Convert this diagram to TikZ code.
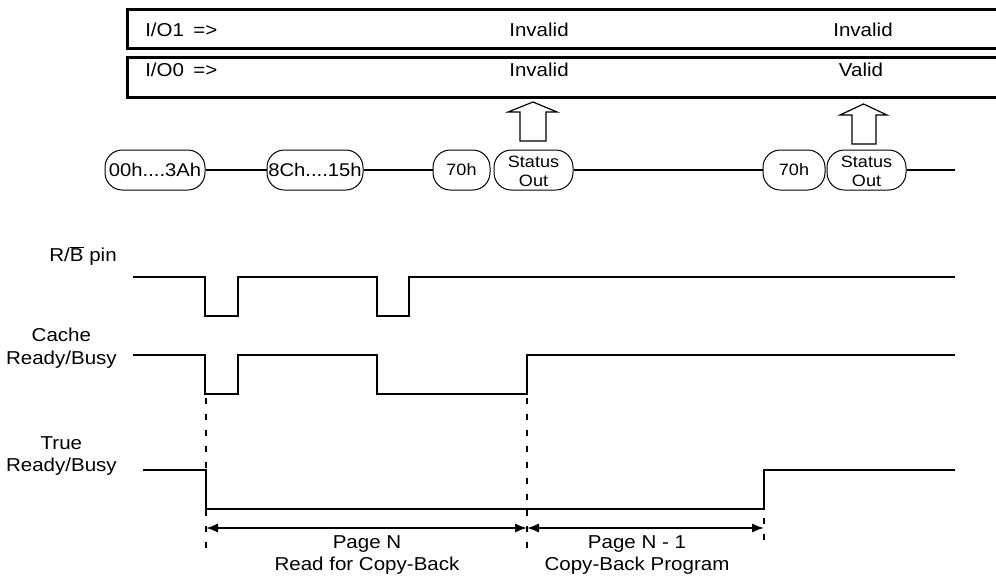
\documentclass[tikz,border=0pt]{standalone}
\usepackage{fontspec}
\setmainfont{Liberation Sans}[FakeStretch=1.1]
\usetikzlibrary{arrows.meta}
\tikzset{
  boxline/.style={line width=2.25pt, line join=miter},
  sig/.style={line width=1.5pt, line join=miter},
  cmd/.style={draw, line width=0.75pt, rounded corners=13pt, minimum height=30pt, inner sep=0pt, align=center},
  cmdtxt/.style={font=\fontsize{13.8}{16}\selectfont},
  smalltxt/.style={font=\fontsize{12.3}{15}\selectfont},
  lbl/.style={font=\fontsize{14}{16.8}\selectfont, align=center, inner sep=0pt},
  dashv/.style={line width=1.5pt, dash pattern=on 4.5pt off 7.5pt},
  dimarrow/.style={line width=1.5pt, {Latex[length=9pt,width=7pt]}-{Latex[length=9pt,width=7pt]}},
  hollow/.style={draw, line width=0.9pt, fill=white, line join=miter},
  conn/.style={line width=1.5pt}
}
\newcommand{\stxt}{\raisebox{-5.4pt}[0pt][0pt]{\begin{tabular}{@{}c@{}}Status\\[-0.5pt]Out\end{tabular}}}
\begin{document}
\begin{tikzpicture}[x=0.75pt, y=-0.75pt]
\useasboundingbox (0,0) rectangle (996,578);
% top boxes
\draw[boxline] (1000,9) -- (127,9) -- (127,48) -- (1000,48);
\draw[boxline] (1000,57) -- (127,57) -- (127,97) -- (1000,97);
\node[lbl, anchor=west] (io1) at (145,30) {I/O1};
\node[lbl, anchor=west] (ar1) at (193,31) {=>};
\node[lbl] (inv1) at (539,30) {Invalid};
\node[lbl] (inv2) at (863,30) {Invalid};
\node[lbl, anchor=west] (io0) at (145,70) {I/O0};
\node[lbl, anchor=west] (ar0) at (193,71) {=>};
\node[lbl] (inv3) at (539,70) {Invalid};
\node[lbl] (val1) at (861,70) {Valid};
% hollow arrows
\draw[hollow] (520,141) -- (520,112) -- (508,112) -- (533,102) -- (557,112) -- (546,112) -- (546,141) -- cycle;
\draw[hollow] (852,144) -- (852,115) -- (840,115) -- (863.5,104) -- (887,115) -- (876,115) -- (876,144) -- cycle;
% command nodes
\node[cmd, cmdtxt, minimum width=75pt] (c1) at (155,170) {00h....3Ah};
\node[cmd, cmdtxt, minimum width=72pt] (c2) at (315,170) {8Ch....15h};
\node[cmd, smalltxt, minimum width=42.75pt] (c3) at (461.5,170) {70h};
\node[cmd, smalltxt, minimum width=59.25pt] (c4) at (533.5,170) {\stxt};
\node[cmd, smalltxt, minimum width=46.5pt] (c5) at (794,170) {70h};
\node[cmd, smalltxt, minimum width=59.25pt] (c6) at (866.5,170) {\stxt};
\coordinate (cend) at (955,170);
\draw[conn] (c1) -- (c2);
\draw[conn] (c2) -- (c3);
\draw[conn] (c4) -- (c5);
\draw[conn] (c6) -- (cend);
% signal labels
\node[lbl, anchor=east] (lrb) at (117,256) {R/$\overline{\mbox{B}}$ pin};
\node[lbl, anchor=east] (lcache) at (117,348) {Cache\\Ready/Busy};
\node[lbl, anchor=east] (ltrue) at (117,456) {True\\Ready/Busy};
% signals
\draw[sig] (133,277) -- (205,277) -- (205,316) -- (238,316) -- (238,277) -- (377,277) -- (377,316) -- (409,316) -- (409,277) -- (955,277);
\draw[sig] (133,355) -- (205,355) -- (205,394) -- (238,394) -- (238,355) -- (377,355) -- (377,394) -- (527,394) -- (527,355) -- (955,355);
\draw[sig] (143,470) -- (206,470) -- (206,509) -- (764,509) -- (764,470) -- (955,470);
% dashed markers
\coordinate (t1) at (206,398); \coordinate (b1) at (206,548);
\coordinate (t2) at (527,398); \coordinate (b2) at (527,548);
\coordinate (t3) at (764,502); \coordinate (b3) at (764,548);
\draw[dashv] (t1) -- (b1);
\draw[dashv] (t2) -- (b2);
\draw[dashv] (t3) -- (b3);
% dimension arrows
\coordinate (d1) at (206,528);
\coordinate (d2) at (527,528);
\coordinate (d3) at (764,528);
\draw[dimarrow] (d1) -- (d2);
\draw[dimarrow] (d2) -- (d3);
\node[lbl] (pn) at (367,555) {Page N\\Read for Copy-Back};
\node[lbl] (pn1) at (637,555) {Page N - 1\\Copy-Back Program};
\end{tikzpicture}
\end{document}
